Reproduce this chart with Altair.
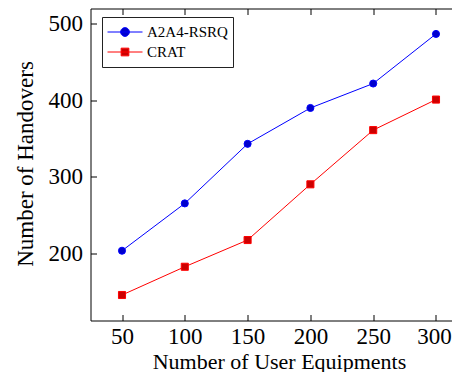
import math
import altair as alt
import pandas as pd

# ---- data ----
ues = [50, 100, 150, 200, 250, 300]
a2a4_rsrq = [203, 265, 343, 390, 422, 487]
crat = [145, 182, 217, 290, 361, 401]
series_names = ["A2A4-RSRQ", "CRAT"]
x_ticks = [50, 100, 150, 200, 250, 300]
y_ticks = [200, 300, 400, 500]

line_colors = ["#0000ff", "#ff0000"]
mark_fills = ["#0000cc", "#cc0000"]

df = pd.DataFrame({
    "ues": ues + ues,
    "handovers": a2a4_rsrq + crat,
    "series": [series_names[0]] * len(ues) + [series_names[1]] * len(ues),
})

FONT = "Liberation Serif"

# legend symbols: a line segment with the marker on it (custom path, unit = sqrt(size)/2 px)
def circle_line_path(r, n=20):
    pts = [f"{r * math.cos(2 * math.pi * i / n):.4f},{r * math.sin(2 * math.pi * i / n):.4f}" for i in range(n)]
    return "M-1,0L1,0M" + "L".join(pts) + "Z"

def square_line_path(s):
    return f"M-1,0L1,0M{-s},{-s}L{s},{-s}L{s},{s}L{-s},{s}Z"

legend_shapes = [circle_line_path(0.25), square_line_path(0.22)]

x_scale = alt.Scale(domain=[24.92, 325.08], nice=False, zero=False)
y_scale = alt.Scale(domain=[111.6, 520.3], nice=False, zero=False)

common_axis = dict(grid=False, domain=False, tickSize=6, tickColor="black", tickWidth=1,
                   offset=-6, labelFont=FONT, labelFontSize=23, labelColor="black",
                   titleFont=FONT, titleFontWeight="normal", titleColor="black")
tick_only = {k: v for k, v in common_axis.items() if not k.startswith("label") and not k.startswith("title")}

x_bottom = alt.Axis(orient="bottom", values=x_ticks, labelPadding=5, labelFlush=False,
                    labelOverlap=False,
                    labelOffset={"condition": {"test": "datum.value == 300", "value": -2}, "value": 0},
                    title="Number of User Equipments", titleFontSize=22,
                    titleX=188.5, titleY=53.5, titleBaseline="alphabetic", **common_axis)
y_left = alt.Axis(orient="left", values=y_ticks, labelPadding=8, labelOverlap=False,
                  title="Number of Handovers", titleFontSize=23, titleAngle=270, titleX=-64, titleY=155,
                  titleBaseline="alphabetic", titleAlign="center", **common_axis)
x_top = alt.Axis(orient="top", values=x_ticks, labels=False, title=None, **tick_only)
y_right = alt.Axis(orient="right", values=y_ticks, labels=False, title=None, **tick_only)

base = alt.Chart(df)

lines = base.mark_line(strokeWidth=1).encode(
    x=alt.X("ues:Q", scale=x_scale, axis=x_bottom),
    y=alt.Y("handovers:Q", scale=y_scale, axis=y_left),
    stroke=alt.Stroke("series:N", scale=alt.Scale(domain=series_names, range=line_colors), legend=None),
)

points = base.mark_point(filled=True, opacity=1, size=50, strokeWidth=1).encode(
    x=alt.X("ues:Q", scale=x_scale, axis=x_top),
    y=alt.Y("handovers:Q", scale=y_scale, axis=y_right),
    fill=alt.Fill("series:N", scale=alt.Scale(domain=series_names, range=mark_fills), legend=None),
    stroke=alt.Stroke("series:N", scale=alt.Scale(domain=series_names, range=line_colors), legend=None),
    shape=alt.Shape("series:N", scale=alt.Scale(domain=series_names, range=["circle", "square"]), legend=None),
)

leg = dict(title=None, orient="none", legendX=11.5, legendY=8.5, padding=5,
           strokeColor="#222", fillColor="white", cornerRadius=0,
           symbolSize=1225, symbolStrokeWidth=1, symbolFillColor="white", symbolStrokeColor="black",
           labelFont=FONT, labelFontSize=15, labelColor="black", labelOffset=4,
           clipHeight=20, rowPadding=0, labelExpr="datum.label + '\u00a0\u00a0\u00a0'")

legend_layer = base.mark_point(filled=True, opacity=1, strokeWidth=1).encode(
    x=alt.X("ues:Q", scale=x_scale, axis=None),
    y=alt.Y("handovers:Q", scale=y_scale, axis=None),
    fill=alt.Fill("series:N", scale=alt.Scale(domain=series_names, range=mark_fills), legend=alt.Legend(**leg)),
    stroke=alt.Stroke("series:N", scale=alt.Scale(domain=series_names, range=line_colors), legend=alt.Legend(**leg)),
    shape=alt.Shape("series:N", scale=alt.Scale(domain=series_names, range=legend_shapes), legend=alt.Legend(**leg)),
).transform_filter("false")

chart = alt.layer(lines, points, legend_layer).resolve_scale(
    fill="independent", stroke="independent", shape="independent"
).properties(
    width=377, height=312,
    autosize=alt.AutoSizeParams(type="none"),
    padding={"left": 82.5, "top": 0.5, "right": -15.5, "bottom": 51.5},
).configure_view(stroke="black", strokeWidth=1)

chart.save("out.html", embed_options={"renderer": "svg", "actions": False})
